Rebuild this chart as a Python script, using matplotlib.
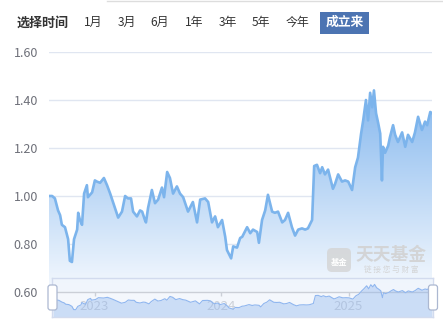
import numpy as np
import pandas as pd
import matplotlib
matplotlib.use("Agg")
import matplotlib.pyplot as plt
import matplotlib.dates as mdates
from matplotlib.colors import LinearSegmentedColormap
from matplotlib.patches import Polygon, FancyBboxPatch, Rectangle

plt.rcParams['font.family'] = ['Noto Sans CJK SC', 'DejaVu Sans']

# unit NAV since inception
dates = [
    "2022-08-23", "2022-09-01", "2022-09-09", "2022-09-18", "2022-09-24", "2022-09-29",
    "2022-10-08", "2022-10-17", "2022-10-22", "2022-10-28", "2022-11-03", "2022-11-12",
    "2022-11-15", "2022-11-20", "2022-11-26", "2022-12-02", "2022-12-10", "2022-12-13",
    "2022-12-25", "2023-01-02", "2023-01-08", "2023-01-17", "2023-01-28", "2023-02-06",
    "2023-02-15", "2023-02-23", "2023-03-01", "2023-03-10", "2023-03-21", "2023-03-30",
    "2023-04-07", "2023-04-16", "2023-04-22", "2023-05-03", "2023-05-12", "2023-05-18",
    "2023-05-26", "2023-05-29", "2023-06-04", "2023-06-15", "2023-06-24", "2023-07-03",
    "2023-07-14", "2023-07-20", "2023-07-29", "2023-08-06", "2023-08-15", "2023-08-26",
    "2023-09-04", "2023-09-13", "2023-09-27", "2023-10-11", "2023-10-23", "2023-11-01",
    "2023-11-15", "2023-11-24", "2023-12-05", "2023-12-14", "2023-12-22", "2024-01-03",
    "2024-01-12", "2024-01-17", "2024-01-29", "2024-02-04", "2024-02-15", "2024-02-24",
    "2024-03-01", "2024-03-15", "2024-03-24", "2024-04-01", "2024-04-13", "2024-04-18",
    "2024-04-27", "2024-05-06", "2024-05-14", "2024-05-26", "2024-06-03", "2024-06-12",
    "2024-06-24", "2024-07-02", "2024-07-11", "2024-07-22", "2024-07-31", "2024-08-09",
    "2024-08-20", "2024-08-29", "2024-09-06", "2024-09-18", "2024-09-24", "2024-10-02",
    "2024-10-11", "2024-10-17", "2024-10-25", "2024-11-03", "2024-11-09", "2024-11-17",
    "2024-11-23", "2024-12-02", "2024-12-13", "2024-12-22", "2024-12-31", "2025-01-11",
    "2025-01-20", "2025-01-28", "2025-02-06", "2025-02-12", "2025-02-20", "2025-02-26",
    "2025-03-04", "2025-03-10", "2025-03-15", "2025-03-21", "2025-03-27", "2025-04-02",
    "2025-04-07", "2025-04-10", "2025-04-16", "2025-04-25", "2025-04-30", "2025-05-09",
    "2025-05-15", "2025-05-23", "2025-06-04", "2025-06-13", "2025-06-21", "2025-07-03",
    "2025-07-11", "2025-07-20", "2025-07-31", "2025-08-09", "2025-08-15", "2025-08-24",
    "2025-08-29",
]
nav = [
    1.000, 1.000, 0.990, 0.940, 0.920, 0.880,
    0.870, 0.820, 0.730, 0.725, 0.820, 0.860,
    0.930, 0.900, 0.880, 1.010, 1.045, 0.995,
    1.015, 1.065, 1.060, 1.055, 1.075, 1.045,
    1.010, 0.975, 0.950, 0.910, 0.935, 1.000,
    0.990, 0.990, 0.935, 0.915, 0.940, 0.935,
    0.900, 0.890, 0.950, 1.025, 0.970, 0.985,
    1.035, 0.995, 1.100, 1.075, 1.010, 1.040,
    1.010, 0.995, 0.935, 0.975, 0.890, 0.985,
    0.990, 0.975, 0.890, 0.915, 0.870, 0.900,
    0.830, 0.775, 0.740, 0.790, 0.785, 0.825,
    0.830, 0.870, 0.845, 0.860, 0.850, 0.805,
    0.900, 0.940, 1.005, 0.935, 0.930, 0.935,
    0.890, 0.900, 0.930, 0.870, 0.835, 0.860,
    0.865, 0.860, 0.865, 0.900, 1.125, 1.130,
    1.095, 1.120, 1.090, 1.110, 1.075, 1.030,
    1.050, 1.090, 1.060, 1.065, 1.060, 1.025,
    1.120, 1.160, 1.260, 1.315, 1.400, 1.315,
    1.430, 1.370, 1.440, 1.345, 1.305, 1.260,
    1.065, 1.205, 1.180, 1.210, 1.245, 1.295,
    1.255, 1.225, 1.265, 1.205, 1.255, 1.225,
    1.265, 1.330, 1.275, 1.310, 1.295, 1.350,
    1.345,
]
y_ticks = [0.6, 0.8, 1.0, 1.2, 1.4, 1.6]
year_ticks = ["2023-01-01", "2024-01-01", "2025-01-01"]
year_labels = ["2023", "2024", "2025"]
periods = ["1月", "3月", "6月", "1年", "3年", "5年", "今年"]
active_period = "成立来"

W, H = 443, 323


def box(l, t, r, b):
    return [l / W, 1 - b / H, (r - l) / W, (b - t) / H]


x = mdates.date2num(pd.to_datetime(dates))
y = np.array(nav)
xt = mdates.date2num(pd.to_datetime(year_ticks))

fig = plt.figure(figsize=(W / 100, H / 100), dpi=100)
fig.patch.set_facecolor("white")

# main chart
ax = fig.add_axes(box(49, 52, 432, 292))
for s in ["top", "right", "left"]:
    ax.spines[s].set_visible(False)
ax.spines["bottom"].set_color("#6e7079")
ax.spines["bottom"].set_linewidth(1)
for v in y_ticks[1:]:
    ax.axhline(v, color="#e0e6f1", lw=1, zorder=0)

cmap = LinearSegmentedColormap.from_list("g", ["#f5f9fe", "#86b8ee"])
grad = np.linspace(0, 1, 256).reshape(-1, 1)
im = ax.imshow(grad, extent=[x[0], x[-1], 0.6, y.max()], origin="lower",
               aspect="auto", cmap=cmap, zorder=1)
clip = Polygon(np.column_stack([np.r_[x[0], x, x[-1]], np.r_[0.6, y, 0.6]]),
               closed=True, facecolor="none", edgecolor="none", transform=ax.transData)
ax.add_patch(clip)
im.set_clip_path(clip)
ax.plot(x, y, color="#7cb4ec", lw=1.9, zorder=3)
ax.set_xlim(x[0], x[-1])
ax.set_ylim(0.6, 1.6)

ax.set_yticks(y_ticks)
ax.set_yticklabels([f"{v:.2f}" for v in y_ticks])
ax.tick_params(axis="y", length=0, pad=8, labelsize=9, labelcolor="#6e7079")
ax.set_xticks(xt)
ax.set_xticklabels(year_labels)
ax.tick_params(axis="x", length=3, width=1, color="#6e7079", pad=3,
               labelsize=9.5, labelcolor="#6e7079")

# data zoom slider
sl = fig.add_axes(box(52, 278, 433, 317))
sl.set_facecolor((0.94, 0.96, 0.99, 0.72))
for s in sl.spines.values():
    s.set_color("#d2dbee")
    s.set_linewidth(1)
sl.set_xticks([])
sl.set_yticks([])
sl.set_xlim(x[0] - 3, x[-1] + 3)
sl.set_ylim(0.52, 1.62)
sl.fill_between(x, y, 0.52, color="#8fb6ef", alpha=0.4, lw=0)
sl.plot(x, y, color="#8fb6ef", lw=0.8)

# overlay in pixel space for header, handles, watermark
ov = fig.add_axes([0, 0, 1, 1])
ov.set_xlim(0, W)
ov.set_ylim(H, 0)
ov.axis("off")
ov.patch.set_alpha(0)

ov.plot([107, W], [0.6, 0.6], color="#dddddd", lw=1)
ov.text(42.5, 22.5, "选择时间", ha="center", va="center", fontsize=9.4,
        fontweight="bold", color="#333333")
centers = [93, 127, 160, 194, 228, 261, 297]
for c, p in zip(centers, periods):
    ov.text(c, 22.5, p, ha="center", va="center", fontsize=8.6, color="#333333")
ov.add_patch(Rectangle((320, 12.3), 49, 21.4, facecolor="#4c74b2", edgecolor="none"))
ov.text(344.5, 22.5, active_period, ha="center", va="center", fontsize=9.2,
        fontweight="bold", color="white")

for hx in (52.5, 433):
    ov.add_patch(FancyBboxPatch((hx - 4.5, 285), 9, 25, boxstyle="round,pad=0,rounding_size=2.5",
                                facecolor="white", edgecolor="#acb8d1", lw=0.9, zorder=5))

# watermark
ov.add_patch(FancyBboxPatch((327, 248), 24, 24, boxstyle="round,pad=0,rounding_size=5",
                            facecolor="#d4d4d4", edgecolor="none", alpha=0.8))
ov.text(339, 263, "基金", ha="center", va="center", fontsize=6, color="white",
        fontweight="bold")
ov.text(391, 255, "天天基金", ha="center", va="center", fontsize=12.8,
        fontweight="bold", color="#d2d2d2", alpha=0.9)
ov.text(391, 270, "链 接 您 与 财 富", ha="center", va="center", fontsize=5.5,
        color="#d2d2d2", alpha=0.9)

fig.savefig("out.png", dpi=100)
